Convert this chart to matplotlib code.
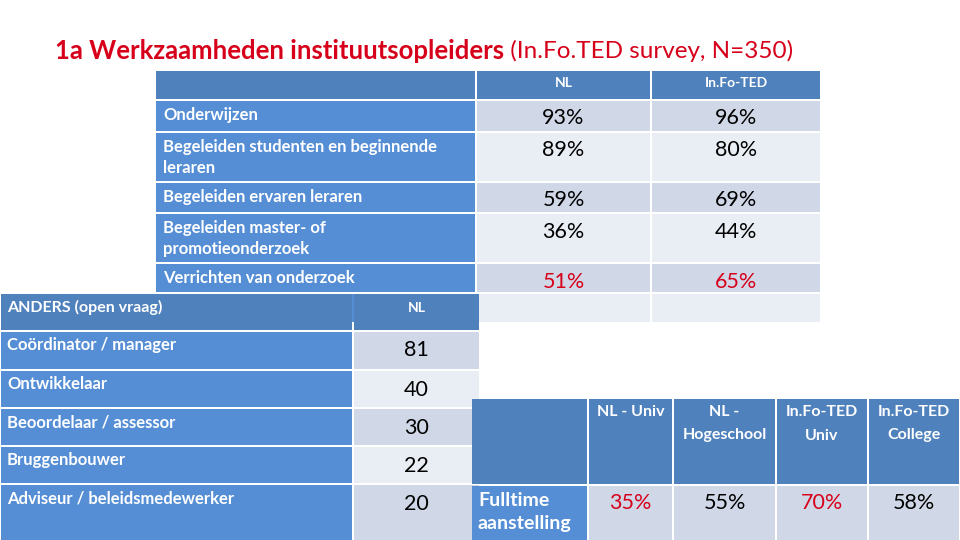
import matplotlib
matplotlib.use("Agg")
import matplotlib.pyplot as plt
from matplotlib.patches import Rectangle

plt.rcParams["font.family"] = ["Lato", "DejaVu Sans"]

# %%
# data
title_bold = "1a Werkzaamheden instituutsopleiders"
title_rest = " (In.Fo.TED survey, N=350)"

tasks = [
    "Onderwijzen",
    "Begeleiden studenten en beginnende\nleraren",
    "Begeleiden ervaren leraren",
    "Begeleiden master- of\npromotieonderzoek",
    "Verrichten van onderzoek",
    "",
]
task_cols = ["NL", "In.Fo-TED"]
task_nl = ["93%", "89%", "59%", "36%", "51%", ""]
task_infoted = ["96%", "80%", "69%", "44%", "65%", ""]
task_red = [False, False, False, False, True, False]

other_header = "ANDERS (open vraag)"
other_roles = [
    "Coördinator / manager",
    "Ontwikkelaar",
    "Beoordelaar / assessor",
    "Bruggenbouwer",
    "Adviseur / beleidsmedewerker",
]
other_nl = [81, 40, 30, 22, 20]

ft_cols = ["NL - Univ", "NL -\nHogeschool", "In.Fo-TED\nUniv", "In.Fo-TED\nCollege"]
ft_label = "Fulltime\naanstelling"
ft_values = ["35%", "55%", "70%", "58%"]
ft_red = [True, False, True, False]

# %%
# styling
HEAD = "#4F81BD"
LABEL = "#558ED5"
DARK = "#D0D8E8"
LIGHT = "#E9EDF4"
RED = "#D7001A"

fig = plt.figure(figsize=(9.6, 5.4), dpi=100)
ax = fig.add_axes([0, 0, 1, 1])
ax.set_xlim(0, 960)
ax.set_ylim(540, 0)
ax.axis("off")


def cell(x0, x1, y0, y1, color):
    ax.add_patch(Rectangle((x0 + 1, y0 + 1), x1 - x0 - 2, y1 - y0 - 2,
                           facecolor=color, edgecolor="none"))


def lines(x, y, text, step, **kw):
    # place each line on its own so the first line sits at a fixed height
    for k, line in enumerate(text.split("\n")):
        ax.text(x, y + k * step, line, va="center", **kw)


# %%
# table 1: werkzaamheden
c1 = [155, 476, 651, 821]
r1 = [70, 100, 132, 182, 213, 263, 293, 323]
for j in range(3):
    cell(c1[j], c1[j + 1], r1[0], r1[1], HEAD)
for j, name in enumerate(task_cols):
    ax.text((c1[j + 1] + c1[j + 2]) / 2, r1[0] + 13, name, color="white",
            fontsize=10, fontweight="bold", ha="center", va="center")
for i, label in enumerate(tasks):
    y0, y1 = r1[i + 1], r1[i + 2]
    band = DARK if i % 2 == 0 else LIGHT
    cell(c1[0], c1[1], y0, y1, LABEL)
    cell(c1[1], c1[2], y0, y1, band)
    cell(c1[2], c1[3], y0, y1, band)
    lines(c1[0] + 8, y0 + 15, label, 21, color="white", fontsize=12,
          fontweight="bold", ha="left")
    col = RED if task_red[i] else "black"
    for j, v in enumerate([task_nl[i], task_infoted[i]]):
        ax.text((c1[j + 1] + c1[j + 2]) / 2, y0 + 18.5, v, color=col,
                fontsize=15.5, ha="center", va="center")

# %%
# table 2: anders
c2 = [0, 353, 480]
r2 = [293, 331, 370, 408, 446, 484, 542]
cell(c2[0], c2[1], r2[0], r2[1], HEAD)
cell(c2[1], c2[2], r2[0], r2[1], HEAD)
ax.text(c2[0] + 7, r2[0] + 14, other_header, color="white", fontsize=11.5,
        fontweight="bold", ha="left", va="center")
ax.text((c2[1] + c2[2]) / 2, r2[0] + 15, "NL", color="white", fontsize=10,
        fontweight="bold", ha="center", va="center")
for i, role in enumerate(other_roles):
    y0, y1 = r2[i + 1], r2[i + 2]
    cell(c2[0], c2[1], y0, y1, LABEL)
    cell(c2[1], c2[2], y0, y1, DARK if i % 2 == 0 else LIGHT)
    ax.text(c2[0] + 7, y0 + 14, role, color="white", fontsize=12,
            fontweight="bold", ha="left", va="center")
    ax.text((c2[1] + c2[2]) / 2, y0 + 19.5, str(other_nl[i]), color="black",
            fontsize=15.5, ha="center", va="center")

# %%
# table 3: fulltime aanstelling
c3 = [471, 588, 673, 776, 868, 960]
r3 = [398, 485, 542]
for j in range(5):
    cell(c3[j], c3[j + 1], r3[0], r3[1], HEAD)
    cell(c3[j], c3[j + 1], r3[1], r3[2], LABEL if j == 0 else DARK)
for j, name in enumerate(ft_cols):
    lines((c3[j + 1] + c3[j + 2]) / 2, r3[0] + 14.5, name, 23, color="white",
          fontsize=11.5, fontweight="bold", ha="center")
lines(c3[0] + 7, r3[1] + 15, ft_label, 24, color="white", fontsize=14,
      fontweight="bold", ha="left")
for j, v in enumerate(ft_values):
    ax.text((c3[j + 1] + c3[j + 2]) / 2, r3[1] + 18, v,
            color=RED if ft_red[j] else "black", fontsize=15.5,
            ha="center", va="center")

# %%
# title: bold part followed by regular part
t1 = ax.text(55, 51, title_bold, color=RED, fontsize=18.5, fontweight="bold",
             ha="left", va="center")
fig.canvas.draw()
bb = t1.get_window_extent().transformed(ax.transData.inverted())
ax.text(bb.x1, 51, title_rest, color=RED, fontsize=17.5, ha="left", va="center")

fig.savefig("out.png", dpi=100, facecolor="white")
